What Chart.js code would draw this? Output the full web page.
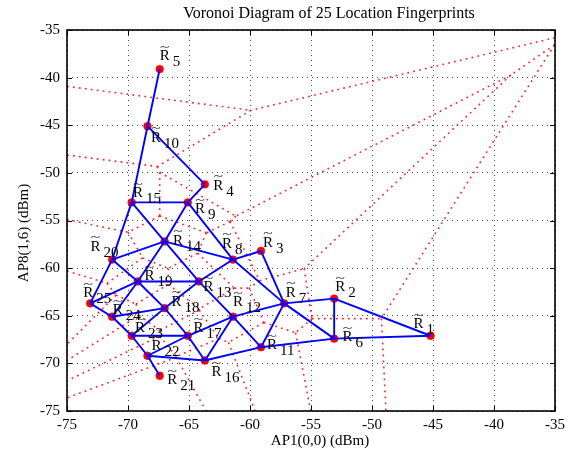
<!DOCTYPE html>
<html><head><meta charset="utf-8">
<script src="https://cdn.jsdelivr.net/npm/chart.js@4.4.0/dist/chart.umd.min.js"></script>
<style>html,body{margin:0;padding:0;background:#fff}#wrap{width:570px;height:450px}</style>
</head><body><div id="wrap"><canvas id="c" width="570" height="450"></canvas></div>
<script>
// ---- data ----
const pointX = [-45.2,-53.1,-59.1,-63.7,-67.4,-53.1,-57.2,-61.4,-65.1,-68.4,-59.1,-61.4,-64.2,-67.0,-69.7,-63.7,-65.1,-67.0,-69.2,-71.3,-67.4,-68.4,-69.7,-71.3,-73.1];
const pointY = [-67.1,-63.2,-58.2,-51.2,-39.1,-67.4,-63.7,-59.1,-53.1,-45.1,-68.3,-65.1,-61.4,-57.2,-53.1,-69.7,-67.1,-64.2,-61.4,-59.1,-71.3,-69.2,-67.1,-65.1,-63.7];
const pointNames = ['1','2','3','4','5','6','7','8','9','10','11','12','13','14','15','16','17','18','19','20','21','22','23','24','25'];
const edges = [[5,10],[10,15],[10,4],[4,9],[15,9],[9,8],[15,14],[9,14],[15,20],[20,14],[14,8],[14,19],[14,13],[20,19],[20,25],[8,3],[8,13],[8,7],[3,7],[19,13],[19,25],[19,24],[19,18],[13,18],[13,12],[25,24],[24,18],[24,23],[18,23],[18,17],[12,7],[12,17],[12,16],[12,11],[7,2],[7,6],[7,11],[2,6],[2,1],[6,1],[11,6],[23,17],[23,22],[17,22],[17,16],[22,16],[22,21],[16,11]];
const xTicks = [-75,-70,-65,-60,-55,-50,-45,-40,-35];
const yTicks = [-75,-70,-65,-60,-55,-50,-45,-40,-35];
const titleText = 'Voronoi Diagram of 25 Location Fingerprints';
const xLabel = 'AP1(0,0) (dBm)';
const yLabel = 'AP8(1,6) (dBm)';

// ---- label placement (pixel offsets of the "R" glyph from its point) ----
const labelOffsets = [[-17,-7.6],[1,-7.6],[2,-4],[8.3,5.6],[0,-9],[8.4,2.7],[1.7,-6.4],[-11,-11.7],[7.3,10.7],[3.4,15.4],[6,2.3],[0,-10.3],[4.7,9.7],[8.3,3.3],[1.3,-5.3],[6.6,15.7],[5.7,-3.6],[7,-2.3],[6.7,-1],[-21.7,-9],[7.6,8.3],[4,-5.7],[3.3,-3.6],[0.6,-2.7],[-7,-6]];

const FONT = 'Liberation Serif, Times New Roman, serif';
const XMIN = xTicks[0], XMAX = xTicks[xTicks.length-1];
const YMIN = yTicks[0], YMAX = yTicks[yTicks.length-1];

// ---- Voronoi cells by half-plane clipping (data space) ----
function voronoiSegments(){
  const n = pointX.length, segs = [];
  for(let i=0;i<n;i++){
    let poly = [[XMIN,YMIN,-1],[XMAX,YMIN,-1],[XMAX,YMAX,-1],[XMIN,YMAX,-1]];
    const px=pointX[i], py=pointY[i];
    for(let j=0;j<n;j++){
      if(j===i) continue;
      const dx=pointX[j]-px, dy=pointY[j]-py;
      const mx=(pointX[j]+px)/2, my=(pointY[j]+py)/2;
      const f = p => (p[0]-mx)*dx + (p[1]-my)*dy; // <=0 inside
      const out=[];
      for(let k=0;k<poly.length;k++){
        const a=poly[k], b=poly[(k+1)%poly.length];
        const fa=f(a), fb=f(b);
        const ia=fa<=0, ib=fb<=0;
        const inter = () => { const t=fa/(fa-fb); return [a[0]+t*(b[0]-a[0]), a[1]+t*(b[1]-a[1])]; };
        if(ia&&ib){ out.push(a); }
        else if(ia&&!ib){ out.push(a); const I=inter(); out.push([I[0],I[1],j]); }
        else if(!ia&&ib){ const I=inter(); out.push([I[0],I[1],a[2]]); }
      }
      poly=out;
      if(poly.length===0) break;
    }
    for(let k=0;k<poly.length;k++){
      const a=poly[k], b=poly[(k+1)%poly.length];
      if(a[2]>i) segs.push([{x:a[0],y:a[1]},{x:b[0],y:b[1]}]);
    }
  }
  return segs;
}

const datasets = [];
edges.forEach(e=>{
  const a=e[0]-1, b=e[1]-1;
  datasets.push({type:'scatter', showLine:true, data:[{x:pointX[a],y:pointY[a]},{x:pointX[b],y:pointY[b]}],
    borderColor:'#0000ff', borderWidth:1.9, pointRadius:0, pointHoverRadius:0, order:1});
});
datasets.push({type:'scatter', data:pointX.map((x,i)=>({x:x,y:pointY[i]})),
  backgroundColor:'#ff0000', borderColor:'#ff0000', pointRadius:3.9, borderWidth:0.5, order:2});
voronoiSegments().forEach(s=>{
  datasets.push({type:'scatter', showLine:true, data:s, borderColor:'rgba(255,0,0,0.85)', borderWidth:1.6,
    borderDash:[1.8,4.2], pointRadius:0, pointHoverRadius:0, order:3});
});

const decorPlugin = {
  id:'decor',
  afterDatasetsDraw(chart){
    const ctx=chart.ctx, xs=chart.scales.x, ys=chart.scales.y;
    ctx.save();
    ctx.fillStyle='#000';
    for(let i=0;i<pointX.length;i++){
      const px=xs.getPixelForValue(pointX[i]), py=ys.getPixelForValue(pointY[i]);
      const lx=px+labelOffsets[i][0], ly=py+labelOffsets[i][1];
      ctx.font='15px '+FONT; ctx.textAlign='left'; ctx.textBaseline='alphabetic';
      ctx.fillText('R', lx, ly);
      const rw=ctx.measureText('R').width;
      ctx.fillText(pointNames[i], lx+13, ly+6);
      ctx.save();
      ctx.translate(lx+rw/2, ly-10.5);
      ctx.scale(1.25, 0.8);
      ctx.font='14px '+FONT; ctx.textAlign='center';
      ctx.fillText('~', 0, 0);
      ctx.restore();
    }
    ctx.restore();
  },
  afterDraw(chart){
    const ctx=chart.ctx, a=chart.chartArea, xs=chart.scales.x, ys=chart.scales.y;
    ctx.save();
    ctx.strokeStyle='#000'; ctx.lineWidth=1;
    ctx.beginPath();
    xTicks.forEach(v=>{const x=Math.round(xs.getPixelForValue(v))+0.5; ctx.moveTo(x,a.bottom); ctx.lineTo(x,a.bottom-5); ctx.moveTo(x,a.top); ctx.lineTo(x,a.top+5);});
    yTicks.forEach(v=>{const y=Math.round(ys.getPixelForValue(v))+0.5; ctx.moveTo(a.left,y); ctx.lineTo(a.left+5,y); ctx.moveTo(a.right,y); ctx.lineTo(a.right-5,y);});
    ctx.stroke();
    ctx.lineWidth=1.6;
    ctx.strokeRect(a.left, a.top, a.right-a.left, a.bottom-a.top);
    ctx.fillStyle='#000';
    ctx.font='16px '+FONT; ctx.textAlign='center'; ctx.textBaseline='alphabetic';
    ctx.fillText(titleText, 329, 18);
    ctx.font='15px '+FONT;
    ctx.fillText(xLabel, 320, 445);
    ctx.translate(28, 233); ctx.rotate(-Math.PI/2);
    ctx.fillText(yLabel, 0, 0);
    ctx.restore();
  }
};

new Chart(document.getElementById('c'), {
  type:'scatter',
  data:{datasets:datasets},
  options:{
    responsive:false, animation:false, devicePixelRatio:1,
    layout:{padding:{top:30, right:7, left:0, bottom:0}},
    plugins:{legend:{display:false}, tooltip:{enabled:false}, title:{display:false}},
    scales:{
      x:{type:'linear', min:XMIN, max:XMAX,
        afterBuildTicks:s=>{s.ticks=xTicks.map(v=>({value:v}));},
        afterFit:s=>{s.height=39;},
        ticks:{font:{family:FONT,size:15}, color:'#000', padding:5, maxRotation:0, autoSkip:false},
        grid:{color:'rgba(0,0,0,0.7)', lineWidth:1, drawTicks:false},
        border:{display:false, dash:[1,4]}},
      y:{type:'linear', min:YMIN, max:YMAX,
        afterBuildTicks:s=>{s.ticks=yTicks.map(v=>({value:v}));},
        afterFit:s=>{s.width=67;},
        ticks:{font:{family:FONT,size:15}, color:'#000', padding:7, autoSkip:false},
        grid:{color:'rgba(0,0,0,0.7)', lineWidth:1, drawTicks:false},
        border:{display:false, dash:[1,4]}}
    }
  },
  plugins:[decorPlugin]
});
</script></body></html>
